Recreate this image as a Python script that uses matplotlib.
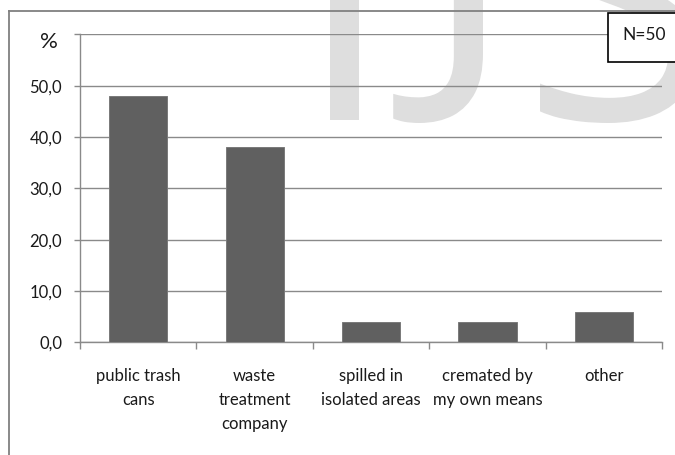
import matplotlib
matplotlib.use("Agg")
import matplotlib.pyplot as plt
from matplotlib.ticker import FixedLocator, FuncFormatter
from matplotlib.patches import Rectangle, PathPatch
from matplotlib.lines import Line2D
from matplotlib.textpath import TextPath
from matplotlib.font_manager import FontProperties
import matplotlib.transforms as mtransforms
import numpy as np

categories = ["public trash\ncans", "waste\ntreatment\ncompany", "spilled in\nisolated areas",
              "cremated by\nmy own means", "other"]
values = [48.0, 38.0, 4.0, 4.0, 6.0]
y_ticks = [0, 10, 20, 30, 40, 50, 60]
n_label = "N=50"
unit_label = "%"
watermark = "IJS"

W, H = 675, 455
DPI = 100
fig = plt.figure(figsize=(W / DPI, H / DPI), dpi=DPI)
fig.patch.set_facecolor("white")

def fx(px):
    return px / W

def fy(py):
    return 1 - py / H

# watermark drawn as glyph outlines placed by their ink boxes (pixel coords from top-left)
wm_color = "#dedede"
wm_prop = FontProperties(family="Open Sans")
paths = {ch: TextPath((0, 0), ch, size=1, prop=wm_prop) for ch in watermark}
scale = 29.0 / paths["I"].get_extents().width
anchors = {"I": (330, 120, "left"), "J": (483, 123, "right"), "S": (540, 123, "left")}
for ch in watermark:
    tp = paths[ch]
    ext = tp.get_extents()
    px, pyb, side = anchors[ch]
    x0 = ext.x0 if side == "left" else ext.x1
    aff = (mtransforms.Affine2D().translate(-x0, -ext.y0).scale(scale)
           .translate(px, H - pyb).scale(1.0 / DPI))
    patch = PathPatch(tp, facecolor=wm_color, edgecolor="none", zorder=-5)
    patch.set_transform(aff + fig.dpi_scale_trans)
    fig.add_artist(patch)

ax = fig.add_axes([fx(80), fy(342.3), fx(662) - fx(80), fy(34.4) - fy(342.3)])
ax.set_facecolor("none")

x = np.arange(len(categories))
ax.bar(x, values, width=0.5, color="#606060", edgecolor="#7a7a7a", linewidth=0.7, zorder=3)

ax.set_xlim(-0.5, len(categories) - 0.5)
ax.set_ylim(0, 60)

grid_c = "#8a8a8a"
ax.set_yticks(y_ticks)
ax.yaxis.set_major_formatter(FuncFormatter(lambda v, p: "" if v >= 60 else f"{v:.1f}".replace(".", ",")))
ax.yaxis.grid(True, color=grid_c, linewidth=1.0, zorder=0)
ax.set_axisbelow(True)

ax.set_xticks(x)
ax.set_xticklabels(categories, family="Lato", fontsize=12, color="#1a1a1a", linespacing=1.6)
ax.xaxis.set_minor_locator(FixedLocator(np.arange(len(categories) + 1) - 0.5))
ax.tick_params(axis="x", which="major", length=0, pad=18.5)
ax.tick_params(axis="x", which="minor", length=5, width=1.0, color=grid_c, direction="out")
ax.tick_params(axis="y", length=4.3, width=1.0, color=grid_c, pad=8.6, labelsize=12,
               labelcolor="#1a1a1a")
for lab in ax.get_yticklabels():
    lab.set_family("Lato")

for s in ["top", "right"]:
    ax.spines[s].set_visible(False)
for s in ["left", "bottom"]:
    ax.spines[s].set_color(grid_c)
    ax.spines[s].set_linewidth(1.0)

# unit label
fig.text(fx(58), fy(42), unit_label, family="Lato", fontsize=16, color="#1a1a1a",
         ha="right", va="center")

# outer frame
fig.add_artist(Line2D([fx(9), fx(9)], [fy(11), fy(460)], color="#808080", linewidth=1.3,
                      transform=fig.transFigure))
fig.add_artist(Line2D([fx(9), fx(690)], [fy(11), fy(11)], color="#808080", linewidth=1.3,
                      transform=fig.transFigure))

# N box
fig.add_artist(Rectangle((fx(608.3), fy(62.3)), fx(700) - fx(608.3), fy(12.7) - fy(62.3),
                         facecolor="white", edgecolor="black", linewidth=1.2,
                         transform=fig.transFigure, zorder=5))
fig.text(fx(644), fy(35), n_label, family="Lato", fontsize=12.5, color="#1a1a1a",
         ha="center", va="center", zorder=6)

fig.savefig("out.png", dpi=DPI)
